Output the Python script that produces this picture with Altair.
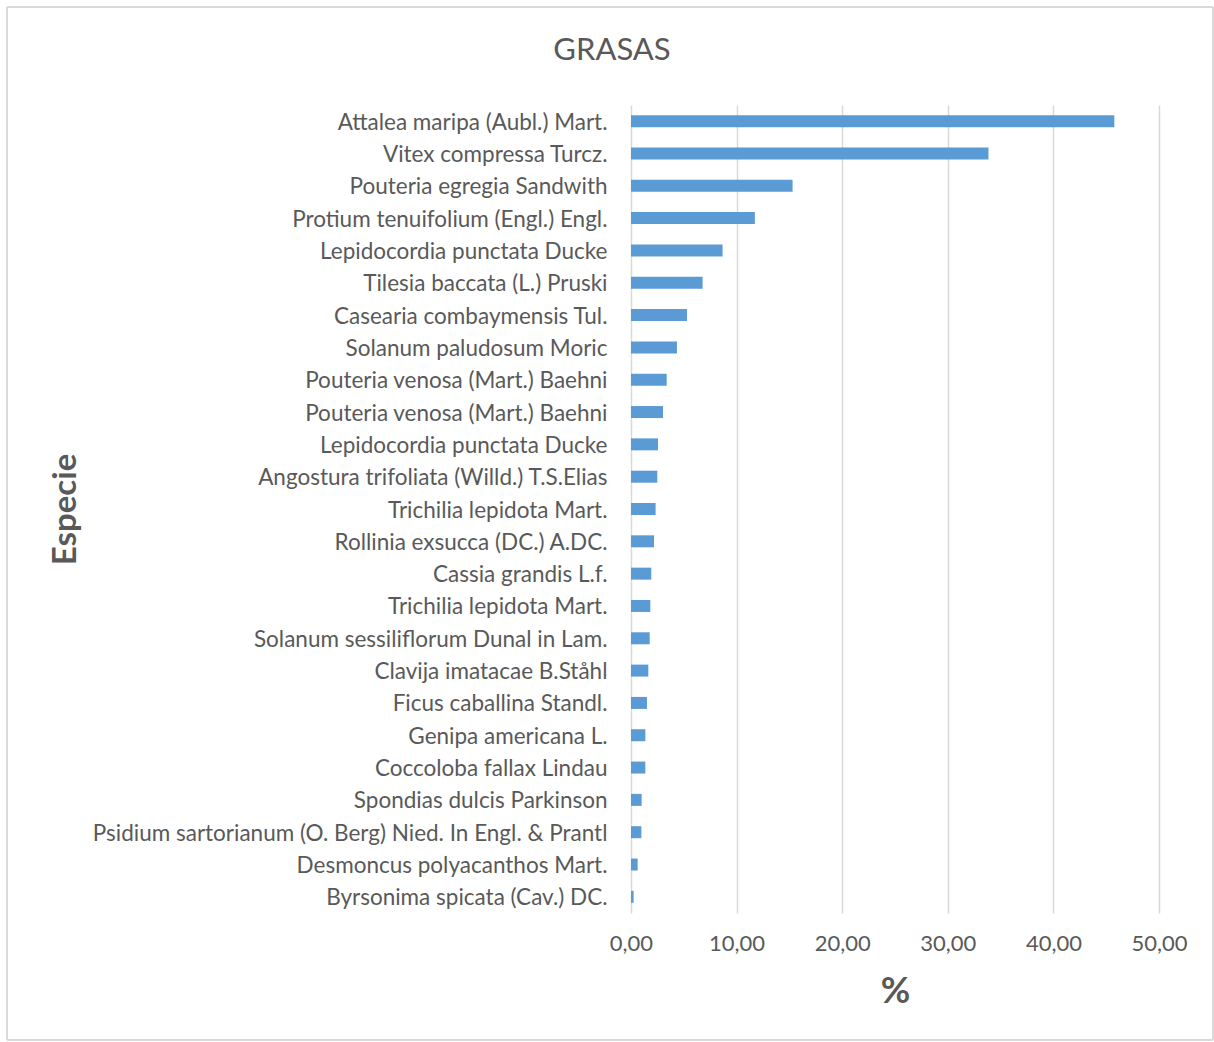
import json
import altair as alt
import pandas as pd

species = [
    "Attalea maripa (Aubl.) Mart.",
    "Vitex compressa Turcz.",
    "Pouteria egregia Sandwith",
    "Protium tenuifolium (Engl.) Engl.",
    "Lepidocordia punctata Ducke",
    "Tilesia baccata (L.) Pruski",
    "Casearia combaymensis Tul.",
    "Solanum paludosum Moric",
    "Pouteria venosa (Mart.) Baehni",
    "Pouteria venosa (Mart.) Baehni",
    "Lepidocordia punctata Ducke",
    "Angostura trifoliata (Willd.) T.S.Elias",
    "Trichilia lepidota Mart.",
    "Rollinia exsucca (DC.) A.DC.",
    "Cassia grandis L.f.",
    "Trichilia lepidota Mart.",
    "Solanum sessiliflorum Dunal in Lam.",
    "Clavija imatacae B.Ståhl",
    "Ficus caballina Standl.",
    "Genipa americana L.",
    "Coccoloba fallax Lindau",
    "Spondias dulcis Parkinson",
    "Psidium sartorianum (O. Berg) Nied. In Engl. & Prantl",
    "Desmoncus polyacanthos Mart.",
    "Byrsonima spicata (Cav.) DC.",
]
values = [45.77, 33.85, 15.3, 11.73, 8.67, 6.78, 5.3, 4.35, 3.38, 3.03,
          2.56, 2.49, 2.33, 2.18, 1.92, 1.83, 1.77, 1.64, 1.51, 1.36,
          1.36, 1.01, 0.98, 0.63, 0.25]
x_ticks = [0, 10, 20, 30, 40, 50]
chart_title = "GRASAS"

df = pd.DataFrame({"idx": list(range(len(species))), "name": species, "value": values})

FONT = "Lato"
GRAY = "#595959"
W, H = 528, 808

names_js = json.dumps(species, ensure_ascii=False)

bars = alt.Chart(df).mark_bar(size=12, color="#5B9BD5").encode(
    x=alt.X("value:Q",
            scale=alt.Scale(domain=[0, 50], nice=False),
            axis=alt.Axis(values=x_ticks, title="%", grid=True, gridColor="#d9d9d9", gridWidth=1.5,
                          domain=False, ticks=False, labelPadding=20, labelFontSize=22,
                          labelColor=GRAY, labelFont=FONT, labelFlush=False, labelOverlap=False,
                          labelExpr="replace(format(datum.value, '.2f'), '.', ',')",
                          titleFontSize=36, titleFontWeight="bold", titleColor=GRAY, titleFont=FONT,
                          titleY=78, titleBaseline="middle")),
    y=alt.Y("idx:O", sort="ascending",
            scale=alt.Scale(paddingInner=0, paddingOuter=0),
            axis=alt.Axis(title="Especie", domain=False, ticks=False, labelPadding=24,
                          labelFontSize=22.5, labelColor=GRAY, labelFont=FONT, labelLimit=700,
                          labelOffset=1.5,
                          labelExpr=names_js + "[datum.value]",
                          titleFontSize=33, titleFontWeight="bold", titleColor=GRAY, titleFont=FONT,
                          titleAngle=270, titleX=-566, titleY=H / 2, titleAlign="center",
                          titleBaseline="middle")),
)

frame = alt.Chart(df).mark_rect(filled=False, stroke="#d9d9d9", strokeWidth=1).encode(
    x=alt.value(-624), x2=alt.value(582), y=alt.value(-98), y2=alt.value(935)
)

title = alt.Chart(pd.DataFrame({"t": [chart_title]})).mark_text(
    font=FONT, fontSize=31, color=GRAY, align="center", baseline="middle"
).encode(text="t:N", x=alt.value(-19), y=alt.value(-54))

chart = alt.layer(frame, title, bars).properties(
    width=W, height=H,
    background="white",
    autosize=alt.AutoSizeParams(type="none"),
    padding={"left": 631, "top": 105, "right": 55, "bottom": 129},
).configure_view(stroke=None)

chart.save("out.html", embed_options={"renderer": "svg", "actions": False})
